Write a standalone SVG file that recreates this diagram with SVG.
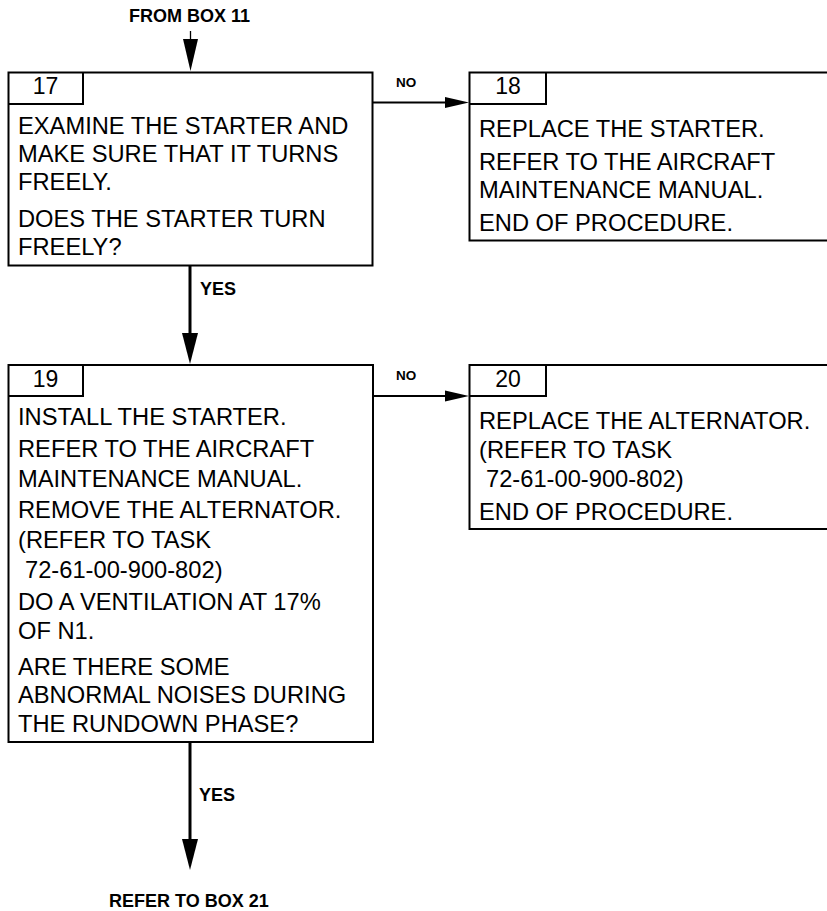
<svg xmlns="http://www.w3.org/2000/svg" width="827" height="911" viewBox="0 0 827 911">
<style>
.box{fill:#fff;stroke:#000;stroke-width:2}
.tag{fill:none;stroke:#000;stroke-width:2}
.t{font-family:"Liberation Sans",Arial,sans-serif;font-size:23.7px;fill:#000}
.num{font-family:"Liberation Sans",Arial,sans-serif;font-size:23px;fill:#000;text-anchor:middle}
.lbl{font-family:"Liberation Sans",Arial,sans-serif;font-weight:bold;font-size:18px;fill:#000}
.no{font-family:"Liberation Sans",Arial,sans-serif;font-weight:bold;font-size:13.5px;fill:#000}
.ln{stroke:#000;fill:none}
.ah{fill:#000;stroke:none}
</style>
<rect width="827" height="911" fill="#fff"/>
<g id="connectors">
<line class="ln" x1="190.5" y1="31" x2="190.5" y2="42" stroke-width="1.3"/>
<polygon class="ah" points="183,39 198,39 190.5,71"/>
<line class="ln" x1="373" y1="102.5" x2="447" y2="102.5" stroke-width="2"/>
<polygon class="ah" points="445,97 469,102.5 445,108"/>
<line class="ln" x1="190" y1="266" x2="190" y2="335" stroke-width="3"/>
<polygon class="ah" points="182,333 198,333 190,364"/>
<line class="ln" x1="373" y1="396" x2="447" y2="396" stroke-width="2"/>
<polygon class="ah" points="445,390.5 469,396 445,401.5"/>
<line class="ln" x1="190" y1="742" x2="190" y2="841" stroke-width="3"/>
<polygon class="ah" points="182,839 198,839 190,870"/>
<text class="lbl" x="129" y="22">FROM BOX 11</text>
<text class="no" x="396" y="87">NO</text>
<text class="lbl" x="200" y="295">YES</text>
<text class="no" x="396" y="380">NO</text>
<text class="lbl" x="199" y="801">YES</text>
<text class="lbl" x="109" y="907">REFER TO BOX 21</text>
</g>
<g id="box17">
<rect class="box" x="8.5" y="72.5" width="364" height="193"/>
<path class="tag" d="M8.5,104 H83 V72.5"/>
<text class="num" x="45.5" y="94">17</text>
<text class="t" x="18" y="134">EXAMINE THE STARTER AND</text>
<text class="t" x="18" y="162">MAKE SURE THAT IT TURNS</text>
<text class="t" x="18" y="190">FREELY.</text>
<text class="t" x="18" y="227">DOES THE STARTER TURN</text>
<text class="t" x="18" y="255">FREELY?</text>
</g>
<g id="box18">
<rect class="box" x="469.5" y="72.5" width="370" height="168"/>
<path class="tag" d="M469.5,104 H546 V72.5"/>
<text class="num" x="508" y="94">18</text>
<text class="t" x="479" y="137">REPLACE THE STARTER.</text>
<text class="t" x="479" y="170">REFER TO THE AIRCRAFT</text>
<text class="t" x="479" y="198">MAINTENANCE MANUAL.</text>
<text class="t" x="479" y="231">END OF PROCEDURE.</text>
</g>
<g id="box19">
<rect class="box" x="8.5" y="365" width="364.5" height="377"/>
<path class="tag" d="M8.5,396 H83 V365"/>
<text class="num" x="45.5" y="387">19</text>
<text class="t" x="18" y="425">INSTALL THE STARTER.</text>
<text class="t" x="18" y="457">REFER TO THE AIRCRAFT</text>
<text class="t" x="18" y="487">MAINTENANCE MANUAL.</text>
<text class="t" x="18" y="518">REMOVE THE ALTERNATOR.</text>
<text class="t" x="18" y="548">(REFER TO TASK</text>
<text class="t" x="25" y="578">72-61-00-900-802)</text>
<text class="t" x="18" y="610">DO A VENTILATION AT 17%</text>
<text class="t" x="18" y="639">OF N1.</text>
<text class="t" x="18" y="675">ARE THERE SOME</text>
<text class="t" x="18" y="703">ABNORMAL NOISES DURING</text>
<text class="t" x="18" y="732">THE RUNDOWN PHASE?</text>
</g>
<g id="box20">
<rect class="box" x="469.5" y="365" width="370" height="164"/>
<path class="tag" d="M469.5,396 H546 V365"/>
<text class="num" x="508" y="387">20</text>
<text class="t" x="479" y="429">REPLACE THE ALTERNATOR.</text>
<text class="t" x="479" y="458">(REFER TO TASK</text>
<text class="t" x="486" y="487">72-61-00-900-802)</text>
<text class="t" x="479" y="520">END OF PROCEDURE.</text>
</g>
</svg>
